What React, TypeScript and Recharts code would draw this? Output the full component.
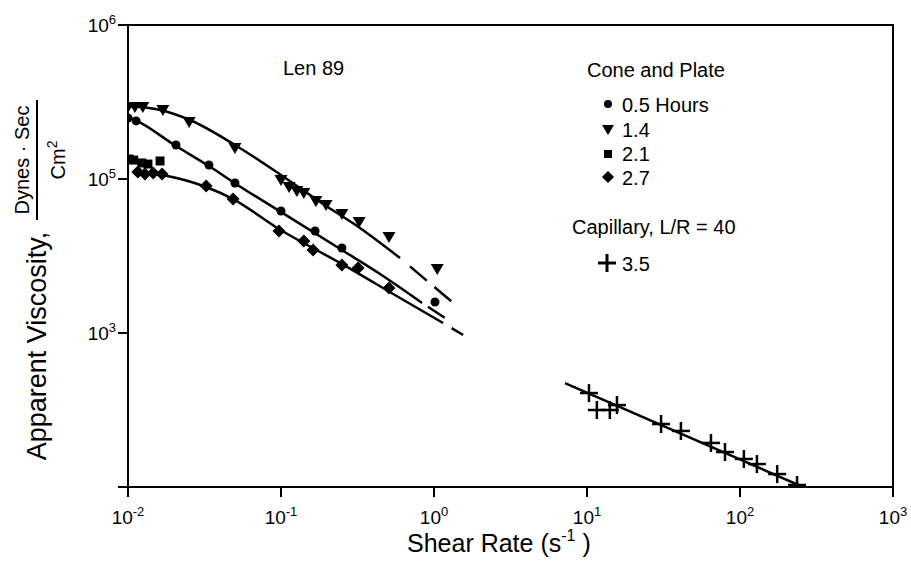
import React from "react";
import {
  ComposedChart,
  Line,
  Scatter,
  XAxis,
  YAxis,
  ReferenceArea,
} from "recharts";

// y values are positions on the printed axis: 0 = bottom, 1 = 10^3, 2 = 10^5, 3 = 10^6
const xTicks = [0.01, 0.1, 1, 10, 100, 1000];
const yTicks = [0, 1, 2, 3];
const yTickExp: Record<number, string> = { 1: "3", 2: "5", 3: "6" };

const hours05 = [
  { x: 0.01, y: 2.396 }, { x: 0.0113, y: 2.377 }, { x: 0.0206, y: 2.221 },
  { x: 0.0338, y: 2.091 }, { x: 0.05, y: 1.974 }, { x: 0.1, y: 1.792 },
  { x: 0.167, y: 1.662 }, { x: 0.25, y: 1.552 }, { x: 1.015, y: 1.201 },
];
const hours14 = [
  { x: 0.01, y: 2.468 }, { x: 0.0111, y: 2.468 }, { x: 0.0125, y: 2.468 },
  { x: 0.0169, y: 2.448 }, { x: 0.0251, y: 2.37 }, { x: 0.05, y: 2.201 },
  { x: 0.1, y: 1.994 }, { x: 0.113, y: 1.948 }, { x: 0.127, y: 1.922 },
  { x: 0.141, y: 1.909 }, { x: 0.169, y: 1.857 }, { x: 0.197, y: 1.831 },
  { x: 0.25, y: 1.773 }, { x: 0.324, y: 1.721 }, { x: 0.508, y: 1.623 },
  { x: 1.05, y: 1.416 },
];
const hours21 = [
  { x: 0.01015, y: 2.13 }, { x: 0.0109, y: 2.123 }, { x: 0.0123, y: 2.104 },
  { x: 0.0135, y: 2.097 }, { x: 0.0162, y: 2.117 },
];
const hours27 = [
  { x: 0.0116, y: 2.045 }, { x: 0.0129, y: 2.032 }, { x: 0.0146, y: 2.039 },
  { x: 0.0167, y: 2.032 }, { x: 0.0324, y: 1.955 }, { x: 0.0486, y: 1.87 },
  { x: 0.097, y: 1.662 }, { x: 0.141, y: 1.597 }, { x: 0.162, y: 1.539 },
  { x: 0.25, y: 1.442 }, { x: 0.319, y: 1.422 }, { x: 0.508, y: 1.292 },
];
const capillary35 = [
  { x: 10.3, y: 0.61 }, { x: 11.6, y: 0.5 }, { x: 14.1, y: 0.5 },
  { x: 15.7, y: 0.532 }, { x: 30.5, y: 0.409 }, { x: 41.1, y: 0.364 },
  { x: 64.6, y: 0.286 }, { x: 79.8, y: 0.227 }, { x: 106, y: 0.182 },
  { x: 129, y: 0.149 }, { x: 175, y: 0.084 }, { x: 236, y: 0.013 },
];

// hand-drawn fit curves
const fit05 = [
  { x: 0.01, y: 2.403 }, { x: 0.01145, y: 2.377 }, { x: 0.0206, y: 2.214 },
  { x: 0.0338, y: 2.084 }, { x: 0.0508, y: 1.968 }, { x: 0.1, y: 1.786 },
  { x: 0.25, y: 1.539 }, { x: 0.444, y: 1.383 }, { x: 0.836, y: 1.195 },
];
const fit05Dash = [{ x: 0.836, y: 1.195 }, { x: 1.18, y: 1.097 }];
const fit14 = [
  { x: 0.01, y: 2.474 }, { x: 0.0162, y: 2.448 }, { x: 0.0254, y: 2.383 },
  { x: 0.05, y: 2.221 }, { x: 0.1, y: 2.026 }, { x: 0.18, y: 1.851 },
  { x: 0.328, y: 1.682 }, { x: 0.6, y: 1.487 },
];
const fit14Dash = [{ x: 0.6, y: 1.487 }, { x: 1.313, y: 1.201 }];
const fit27 = [
  { x: 0.0116, y: 2.045 }, { x: 0.0167, y: 2.026 }, { x: 0.0324, y: 1.948 },
  { x: 0.0486, y: 1.87 }, { x: 0.097, y: 1.675 }, { x: 0.243, y: 1.455 },
  { x: 0.6, y: 1.227 }, { x: 1.146, y: 1.065 },
];
const fit27Dash = [{ x: 1.146, y: 1.065 }, { x: 1.55, y: 0.987 }];
const fit35 = [{ x: 7.18, y: 0.675 }, { x: 258, y: 0 }];

const font = "'Liberation Sans', Arial, Helvetica, sans-serif";

const Dot = (p: any) => <circle cx={p.cx} cy={p.cy} r={4.5} fill="#000" />;
const Tri = (p: any) => (
  <path d={`M${p.cx - 6.5},${p.cy - 5} L${p.cx + 6.5},${p.cy - 5} L${p.cx},${p.cy + 6} Z`} fill="#000" />
);
const Sq = (p: any) => <rect x={p.cx - 4.5} y={p.cy - 4.5} width={9} height={9} fill="#000" />;
const Dia = (p: any) => (
  <path d={`M${p.cx},${p.cy - 6.5} L${p.cx + 6.5},${p.cy} L${p.cx},${p.cy + 6.5} L${p.cx - 6.5},${p.cy} Z`} fill="#000" />
);
const Plus = (p: any) => (
  <g stroke="#000" strokeWidth={2.5}>
    <line x1={p.cx - 9} y1={p.cy} x2={p.cx + 9} y2={p.cy} />
    <line x1={p.cx} y1={p.cy - 9} x2={p.cx} y2={p.cy + 9} />
  </g>
);

const XTick = (props: any) => {
  const { x, y, payload } = props;
  const exp = Math.round(Math.log10(payload.value));
  return (
    <text x={x} y={y + 25} textAnchor="middle" fontFamily={font} fontSize={19} fill="#000">
      10<tspan dy={-8} fontSize={13}>{exp}</tspan>
    </text>
  );
};

const YTick = (props: any) => {
  const { x, y, payload } = props;
  const exp = yTickExp[payload.value];
  if (!exp) return null;
  return (
    <text x={x} y={y + 7} textAnchor="end" fontFamily={font} fontSize={19} fill="#000">
      10<tspan dy={-8} fontSize={13}>{exp}</tspan>
    </text>
  );
};

const fitLine = (data: any[], dash?: string) => (
  <Line
    data={data}
    dataKey="y"
    type="monotone"
    stroke="#000"
    strokeWidth={2.5}
    strokeDasharray={dash}
    dot={false}
    activeDot={false}
    isAnimationActive={false}
  />
);

export default function App() {
  return (
    <div style={{ position: "absolute", left: 0, top: 0, width: 911, height: 577, background: "#fff" }}>
      <ComposedChart width={911} height={577} margin={{ top: 25, right: 18, bottom: 30, left: 68 }}>
        <XAxis
          dataKey="x"
          type="number"
          scale="log"
          domain={[0.01, 1000]}
          ticks={xTicks}
          allowDataOverflow
          height={60}
          tickSize={10}
          tick={<XTick />}
          axisLine={{ stroke: "#000", strokeWidth: 2 }}
          tickLine={{ stroke: "#000", strokeWidth: 2 }}
        />
        <YAxis
          type="number"
          domain={[0, 3]}
          ticks={yTicks}
          allowDataOverflow
          width={60}
          tickSize={10}
          tick={<YTick />}
          axisLine={{ stroke: "#000", strokeWidth: 2 }}
          tickLine={{ stroke: "#000", strokeWidth: 2 }}
        />
        <ReferenceArea x1={0.01} x2={1000} y1={0} y2={3} fill="none" stroke="#000" strokeWidth={2} ifOverflow="visible" />
        {fitLine(fit05)}
        {fitLine(fit05Dash, "0 7 20 200")}
        {fitLine(fit14)}
        {fitLine(fit14Dash, "0 13 22 10 22 200")}
        {fitLine(fit27)}
        {fitLine(fit27Dash, "0 10 14 200")}
        {fitLine(fit35)}
        <Scatter data={hours05} dataKey="y" shape={Dot} isAnimationActive={false} />
        <Scatter data={hours14} dataKey="y" shape={Tri} isAnimationActive={false} />
        <Scatter data={hours21} dataKey="y" shape={Sq} isAnimationActive={false} />
        <Scatter data={hours27} dataKey="y" shape={Dia} isAnimationActive={false} />
        <Scatter data={capillary35} dataKey="y" shape={Plus} isAnimationActive={false} />
      </ComposedChart>
      <svg
        width={911}
        height={577}
        style={{ position: "absolute", left: 0, top: 0, pointerEvents: "none" }}
        fontFamily={font}
        fill="#000"
      >
        <text x={283} y={75} fontSize={20}>Len 89</text>
        <text x={587} y={77} fontSize={20}>Cone and Plate</text>
        <circle cx={608} cy={104} r={4} />
        <text x={622} y={112} fontSize={20}>0.5 Hours</text>
        <path d="M602,125 L614,125 L608,135 Z" />
        <text x={622} y={137} fontSize={20}>1.4</text>
        <rect x={604} y={150} width={8} height={8} />
        <text x={622} y={161} fontSize={20}>2.1</text>
        <path d="M608,171 L614,177 L608,183 L602,177 Z" />
        <text x={622} y={185} fontSize={20}>2.7</text>
        <text x={572} y={234} fontSize={20}>Capillary, L/R = 40</text>
        <g stroke="#000" strokeWidth={3}>
          <line x1={598} y1={263} x2={616} y2={263} />
          <line x1={607} y1={254} x2={607} y2={272} />
        </g>
        <text x={622} y={271} fontSize={20}>3.5</text>
        <text x={407} y={552} fontSize={25}>
          Shear Rate (s<tspan dy={-11} fontSize={16}>-1</tspan>
          <tspan dy={11}> )</tspan>
        </text>
        <text x={46} y={346} fontSize={27} textAnchor="middle" transform="rotate(-90 46 346)">
          Apparent Viscosity,
        </text>
        <text x={29} y={160} fontSize={20} textAnchor="middle" transform="rotate(-90 29 160)">
          Dynes · Sec
        </text>
        <line x1={37} y1={100} x2={37} y2={220} stroke="#000" strokeWidth={2} />
        <text x={65} y={160} fontSize={20} textAnchor="middle" transform="rotate(-90 65 160)">
          Cm<tspan dy={-8} fontSize={14}>2</tspan>
        </text>
      </svg>
    </div>
  );
}
